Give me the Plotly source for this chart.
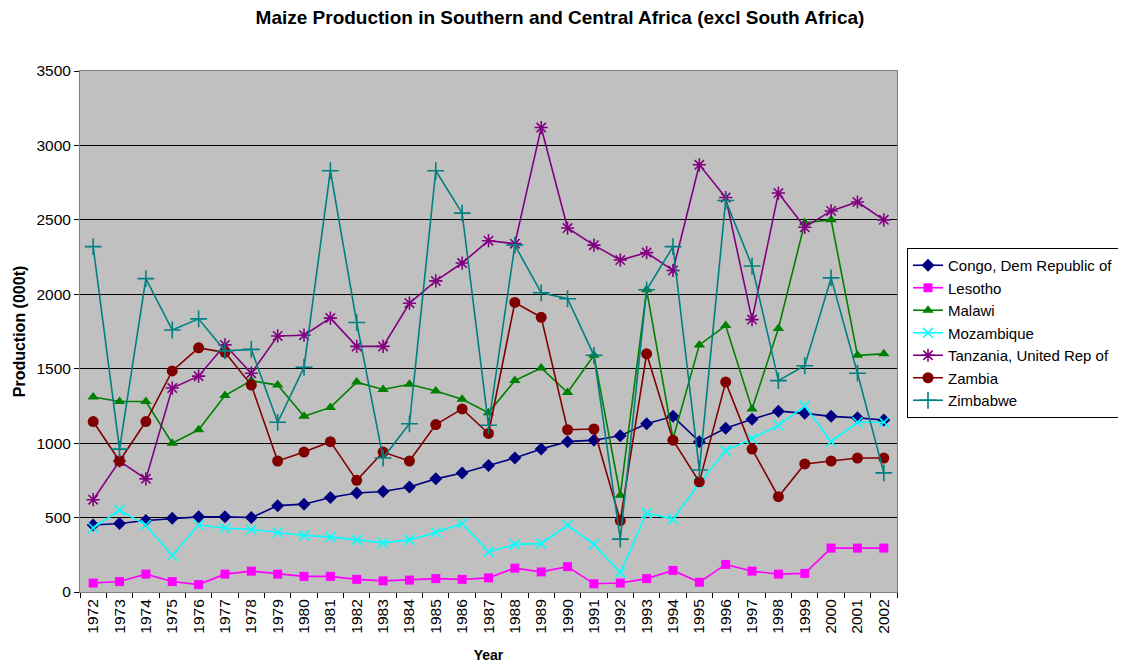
import plotly.graph_objects as go

years = [str(y) for y in range(1972, 2003)]

congo = [450, 460, 480, 495, 505, 505, 500, 580, 590, 635, 665, 675, 705, 760, 800, 850,
         900, 960, 1010, 1020, 1050, 1130, 1180, 1010, 1100, 1160, 1215, 1200, 1180, 1170, 1155]
lesotho = [60, 70, 120, 70, 50, 120, 140, 120, 105, 105, 85, 75, 80, 90, 85, 95,
           160, 135, 170, 55, 60, 90, 145, 65, 185, 140, 120, 125, 295, 295, 295]
malawi = [1310, 1280, 1280, 1000, 1090, 1320, 1420, 1390, 1180, 1240, 1410, 1360, 1395, 1350, 1295, 1205,
          1420, 1505, 1340, 1590, 650, 2030, 1030, 1660, 1790, 1230, 1770, 2480, 2500, 1590, 1600]
mozambique = [430, 550, 450, 245, 450, 430, 420, 400, 380, 370, 350, 330, 350, 400, 460, 270,
              320, 325, 450, 320, 130, 530, 490, 730, 950, 1030, 1120, 1250, 1010, 1140, 1140]
tanzania = [620, 880, 760, 1370, 1450, 1660, 1470, 1720, 1725, 1840, 1650, 1650, 1940, 2090, 2210, 2360,
            2340, 3120, 2445, 2330, 2230, 2280, 2160, 2870, 2650, 1830, 2680, 2450, 2560, 2620, 2500]
zambia = [1145, 880, 1145, 1485, 1640, 1610, 1390, 880, 940, 1010, 750, 940, 880, 1125, 1230, 1065,
          1945, 1845, 1090, 1095, 480, 1600, 1020, 740, 1410, 960, 640, 860, 880, 900, 900]
zimbabwe = [2320, 960, 2105, 1760, 1835, 1620, 1630, 1140, 1510, 2830, 1810, 900, 1130, 2830, 2545, 1120,
            2330, 2010, 1970, 1590, 355, 2030, 2320, 820, 2630, 2190, 1420, 1520, 2110, 1470, 800]

series = [
    ("Congo, Dem Republic of", congo, "#000080", "diamond", 10),
    ("Lesotho", lesotho, "#FF00FF", "square", 9),
    ("Malawi", malawi, "#008000", "triangle-up", 10),
    ("Mozambique", mozambique, "#00FFFF", "x-thin-open", 10),
    ("Tanzania, United Rep of", tanzania, "#800080", "asterisk-open", 11),
    ("Zambia", zambia, "#800000", "circle", 11),
    ("Zimbabwe", zimbabwe, "#008080", "cross-thin-open", 12),
]

fig = go.Figure()
for name, vals, color, sym, size in series:
    open_sym = sym.endswith("open")
    fig.add_trace(go.Scatter(
        x=years, y=vals, name=name, mode="lines+markers",
        line=dict(color=color, width=1.6),
        marker=dict(symbol=sym, size=size, color=color,
                    line=dict(color=color, width=1.6 if open_sym else 0)),
    ))

font_family = "Arial, Liberation Sans, sans-serif"
W, H = 1118, 658
fig.update_layout(
    width=W, height=H,
    margin=dict(l=72, r=229, t=63, b=74),
    paper_bgcolor="white", plot_bgcolor="#C0C0C0",
    font=dict(family=font_family, size=15, color="black"),
    title=dict(text="<b>Maize Production in Southern and Central Africa (excl South Africa)</b>",
               x=0.4937, xanchor="center", y=0.996, yanchor="top",
               font=dict(size=19, family=font_family)),
    showlegend=True,
    legend=dict(xref="container", yref="container",
                x=899 / W, y=1 - 240 / H, xanchor="left", yanchor="top",
                bgcolor="white", bordercolor="black", borderwidth=1,
                font=dict(size=15, family=font_family), tracegroupgap=0,
                itemwidth=30),
)
fig.update_xaxes(
    type="category", tickson="boundaries", ticks="outside", ticklen=5,
    range=[-0.5, len(years) - 0.5], autorange=False,
    tickcolor="black", tickangle=-90, showgrid=False, automargin=False,
    showline=True, linecolor="#808080", linewidth=1, mirror=True,
    tickfont=dict(size=15.5, family=font_family),
    title=dict(text="<b>Year</b>", font=dict(size=14, family=font_family), standoff=17),
)
fig.update_yaxes(
    range=[0, 3500], dtick=500, tick0=0, ticks="outside", ticklen=5, tickcolor="black",
    showgrid=True, gridcolor="black", gridwidth=1, automargin=False,
    showline=True, linecolor="#808080", linewidth=1, mirror=True,
    zeroline=False,
    tickfont=dict(size=15.5, family=font_family),
    title=dict(text="<b>Production (000t)</b>", font=dict(size=16, family=font_family), standoff=6),
)

fig.write_html("out.html")
